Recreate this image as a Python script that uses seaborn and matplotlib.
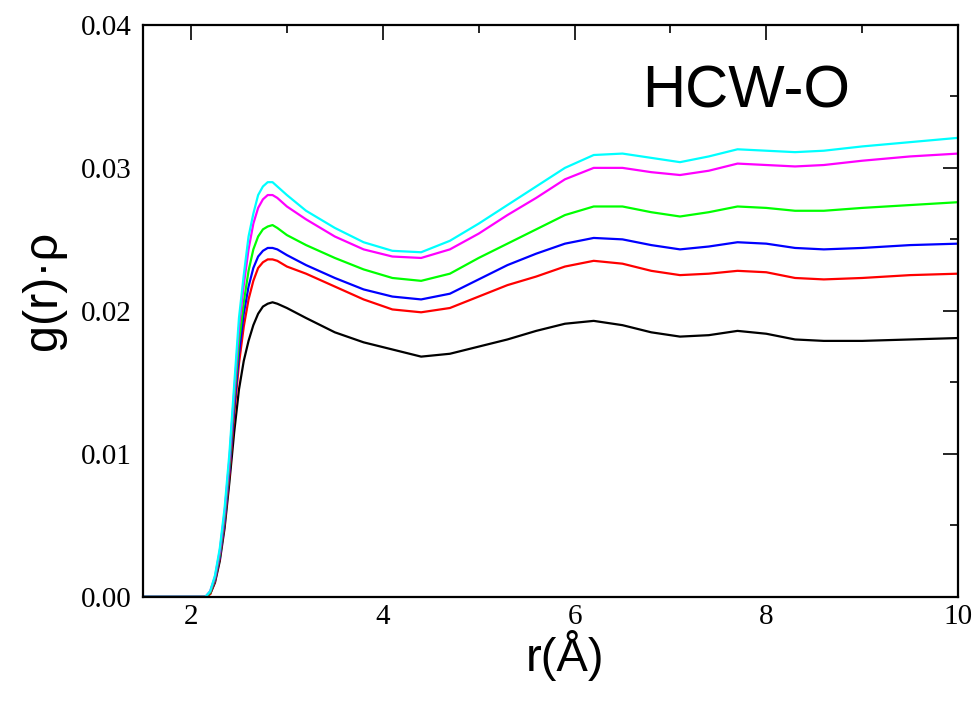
import numpy as np
import pandas as pd
import seaborn as sns
import matplotlib.pyplot as plt
from matplotlib.ticker import MultipleLocator

# r grid (Angstrom) shared by all curves
r = [1.5, 2.0, 2.15, 2.2, 2.25, 2.3, 2.35, 2.4, 2.45, 2.5, 2.55, 2.6, 2.65,
     2.7, 2.75, 2.8, 2.85, 2.9, 3.0, 3.2, 3.5, 3.8, 4.1, 4.4, 4.7, 5.0, 5.3,
     5.6, 5.9, 6.2, 6.5, 6.8, 7.1, 7.4, 7.7, 8.0, 8.3, 8.6, 9.0, 9.5, 10.0]

black = [0, 0, 0, 0.0002, 0.0010, 0.0025, 0.0048, 0.0080, 0.0115, 0.0145,
         0.0165, 0.0179, 0.0190, 0.0198, 0.0203, 0.0205, 0.0206, 0.0205,
         0.0202, 0.0195, 0.0185, 0.0178, 0.0173, 0.0168, 0.0170, 0.0175,
         0.0180, 0.0186, 0.0191, 0.0193, 0.0190, 0.0185, 0.0182, 0.0183,
         0.0186, 0.0184, 0.0180, 0.0179, 0.0179, 0.0180, 0.0181]
red = [0, 0, 0, 0.0002, 0.0011, 0.0027, 0.0051, 0.0085, 0.0127, 0.0163,
       0.0189, 0.0208, 0.0221, 0.0230, 0.0234, 0.0236, 0.0236, 0.0235,
       0.0231, 0.0226, 0.0217, 0.0208, 0.0201, 0.0199, 0.0202, 0.0210,
       0.0218, 0.0224, 0.0231, 0.0235, 0.0233, 0.0228, 0.0225, 0.0226,
       0.0228, 0.0227, 0.0223, 0.0222, 0.0223, 0.0225, 0.0226]
blue = [0, 0, 0, 0.0003, 0.0012, 0.0028, 0.0053, 0.0088, 0.0132, 0.0170,
        0.0198, 0.0217, 0.0230, 0.0238, 0.0242, 0.0244, 0.0244, 0.0243,
        0.0239, 0.0232, 0.0223, 0.0215, 0.0210, 0.0208, 0.0212, 0.0222,
        0.0232, 0.0240, 0.0247, 0.0251, 0.0250, 0.0246, 0.0243, 0.0245,
        0.0248, 0.0247, 0.0244, 0.0243, 0.0244, 0.0246, 0.0247]
green = [0, 0, 0, 0.0003, 0.0013, 0.0030, 0.0056, 0.0092, 0.0138, 0.0178,
         0.0206, 0.0228, 0.0243, 0.0252, 0.0257, 0.0259, 0.0260, 0.0258,
         0.0253, 0.0246, 0.0237, 0.0229, 0.0223, 0.0221, 0.0226, 0.0237,
         0.0247, 0.0257, 0.0267, 0.0273, 0.0273, 0.0269, 0.0266, 0.0269,
         0.0273, 0.0272, 0.0270, 0.0270, 0.0272, 0.0274, 0.0276]
magenta = [0, 0, 0, 0.0004, 0.0014, 0.0032, 0.0059, 0.0096, 0.0143, 0.0188,
           0.0218, 0.0243, 0.0261, 0.0272, 0.0278, 0.0281, 0.0281, 0.0279,
           0.0273, 0.0264, 0.0252, 0.0243, 0.0238, 0.0237, 0.0243, 0.0254,
           0.0267, 0.0279, 0.0292, 0.0300, 0.0300, 0.0297, 0.0295, 0.0298,
           0.0303, 0.0302, 0.0301, 0.0302, 0.0305, 0.0308, 0.0310]
cyan = [0, 0, 0, 0.0004, 0.0015, 0.0034, 0.0062, 0.0100, 0.0148, 0.0195,
        0.0225, 0.0252, 0.0268, 0.0281, 0.0287, 0.0290, 0.0290, 0.0287,
        0.0281, 0.0270, 0.0258, 0.0248, 0.0242, 0.0241, 0.0249, 0.0261,
        0.0274, 0.0287, 0.0300, 0.0309, 0.0310, 0.0307, 0.0304, 0.0308,
        0.0313, 0.0312, 0.0311, 0.0312, 0.0315, 0.0318, 0.0321]

series = {"black": black, "red": red, "blue": blue,
          "green": green, "magenta": magenta, "cyan": cyan}
colors = ["#000000", "#ff0000", "#0000ff", "#00ff00", "#ff00ff", "#00ffff"]

frames = [pd.DataFrame({"r": r, "g": vals, "curve": name})
          for name, vals in series.items()]
df = pd.concat(frames, ignore_index=True)

sns.set_theme(style="white")
plt.rcParams["font.family"] = ["Liberation Sans", "DejaVu Sans"]

fig = plt.figure(figsize=(9.8, 7.03), dpi=100)
ax = fig.add_axes([0.146, 0.151, 0.8316, 0.8136])

sns.lineplot(data=df, x="r", y="g", hue="curve", palette=colors,
             sort=False, estimator=None, linewidth=1.6, legend=False, ax=ax)

ax.set_xlim(1.5, 10)
ax.set_ylim(0, 0.04)
ax.xaxis.set_major_locator(MultipleLocator(2))
ax.xaxis.set_minor_locator(MultipleLocator(1))
ax.yaxis.set_major_locator(MultipleLocator(0.01))
ax.yaxis.set_minor_locator(MultipleLocator(0.005))
ax.yaxis.set_major_formatter(plt.FormatStrFormatter("%.2f"))

# inward ticks on all four sides, serif tick labels
ax.tick_params(which="both", direction="in", top=True, right=True,
               color="black", width=1.2, labelcolor="black",
               labelsize=21, labelfontfamily="Liberation Serif")
ax.tick_params(which="major", length=11)
ax.tick_params(which="minor", length=5.5)
ax.tick_params(axis="x", which="major", pad=5)
ax.tick_params(axis="y", which="major", pad=8)

for sp in ax.spines.values():
    sp.set_color("black")
    sp.set_linewidth(1.6)

ax.set_xlabel("r(Å)", fontsize=34, color="black")
ax.set_ylabel("g(r)·ρ", fontsize=35, color="black")
ax.xaxis.set_label_coords(0.518, -0.058)
ax.yaxis.set_label_coords(-0.095, 0.535)

ax.text(0.612, 0.855, "HCW-O", transform=ax.transAxes, fontsize=43,
        color="black", ha="left", va="baseline")

fig.savefig("out.png", dpi=100)
